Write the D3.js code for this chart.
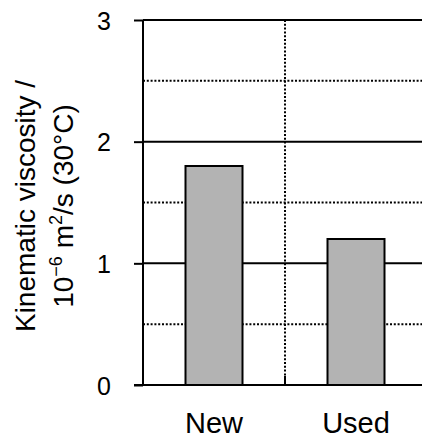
<!DOCTYPE html>
<html>
<head>
<meta charset="utf-8">
<script src="https://cdn.jsdelivr.net/npm/d3@7"></script>
<style>
  body { margin: 0; background: #fff; }
  svg text { font-family: 'Liberation Sans', Arial, sans-serif; fill: #000; }
</style>
</head>
<body>
<div id="chart"></div>
<script>
// data
const categories = ["New", "Used"];
const viscosity = [1.8, 1.2];
const majorTicks = [0, 1, 2, 3];
const minorTicks = [0.5, 1.5, 2.5];

let width = 422,
    height = 439,
    margin = {top: 20, left: 143, bottom: 54, right: -5};

let svg = d3.select("#chart").append("svg")
    .attr("width", width)
    .attr("height", height);

let x = d3.scaleBand()
    .domain(categories)
    .range([margin.left, width - margin.right])
    .paddingInner(0)
    .paddingOuter(0);

let y = d3.scaleLinear()
    .domain([0, 3])
    .range([height - margin.bottom, margin.top]);

let grid = svg.append("g");

// dotted half-unit grid lines
grid.selectAll("line.minor")
    .data(minorTicks)
    .enter().append("line")
    .attr("x1", margin.left).attr("x2", width)
    .attr("y1", d => y(d)).attr("y2", d => y(d))
    .style("stroke", "#000")
    .style("stroke-width", 2)
    .style("stroke-dasharray", "2,1.8");

// dotted separator between the categories
grid.selectAll("line.sep")
    .data(categories.slice(1))
    .enter().append("line")
    .attr("x1", d => x(d)).attr("x2", d => x(d))
    .attr("y1", y(3)).attr("y2", y(0))
    .style("stroke", "#000")
    .style("stroke-width", 2)
    .style("stroke-dasharray", "2,1.8");

// solid major grid lines
grid.selectAll("line.major")
    .data(majorTicks.filter(d => d > 0))
    .enter().append("line")
    .attr("x1", margin.left).attr("x2", width)
    .attr("y1", d => y(d)).attr("y2", d => y(d))
    .style("stroke", "#000")
    .style("stroke-width", 2);

// bars
let barW = 57;
svg.selectAll("rect")
    .data(viscosity)
    .enter().append("rect")
    .attr("x", (d, i) => x(categories[i]) + x.bandwidth() / 2 - barW / 2)
    .attr("y", d => y(d))
    .attr("width", barW)
    .attr("height", d => y(0) - y(d))
    .style("fill", "#b3b3b3")
    .style("stroke", "#000")
    .style("stroke-width", 2);

// y axis
let yAxis = svg.append("g")
    .attr("transform", "translate(" + margin.left + ",0)")
    .call(d3.axisLeft(y).tickValues(majorTicks).tickFormat(d3.format("d"))
        .tickSize(9).tickPadding(23));
yAxis.select(".domain").remove();
yAxis.append("line")
    .attr("y1", y(3)).attr("y2", y(0))
    .style("stroke", "#000").style("stroke-width", 2);
yAxis.selectAll(".tick line").style("stroke", "#000").style("stroke-width", 2);
yAxis.selectAll(".tick text")
    .attr("dy", "0.36em")
    .style("font-size", "25px")
    .style("font-family", "'Liberation Sans', Arial, sans-serif");

// x axis baseline with inner ticks between categories
let xAxis = svg.append("g");
xAxis.append("line")
    .attr("x1", margin.left - 9).attr("x2", width)
    .attr("y1", y(0)).attr("y2", y(0))
    .style("stroke", "#000").style("stroke-width", 2);
xAxis.selectAll("line.tk")
    .data(categories.slice(1))
    .enter().append("line")
    .attr("x1", d => x(d)).attr("x2", d => x(d))
    .attr("y1", y(0) - 9).attr("y2", y(0))
    .style("stroke", "#000").style("stroke-width", 2);
xAxis.selectAll("text")
    .data(categories)
    .enter().append("text")
    .attr("x", d => x(d) + x.bandwidth() / 2)
    .attr("y", 433)
    .attr("text-anchor", "middle")
    .style("font-size", "29px")
    .text(d => d);

// y axis title, two lines
let title = svg.append("text")
    .attr("transform", "translate(35,206) rotate(-90)")
    .attr("text-anchor", "middle")
    .style("font-size", "28px");
title.append("tspan").attr("x", 0).attr("y", 0).text("Kinematic viscosity /");
let l2 = title.append("tspan").attr("x", 0).attr("y", 0).attr("dy", 38);
l2.append("tspan").text("10");
l2.append("tspan").attr("dy", -11).style("font-size", "18px").text("\u22126");
l2.append("tspan").attr("dy", 11).text(" m");
l2.append("tspan").attr("dy", -11).style("font-size", "18px").text("2");
l2.append("tspan").attr("dy", 11).text("/s (30\u00B0C)");
</script>
</body>
</html>
